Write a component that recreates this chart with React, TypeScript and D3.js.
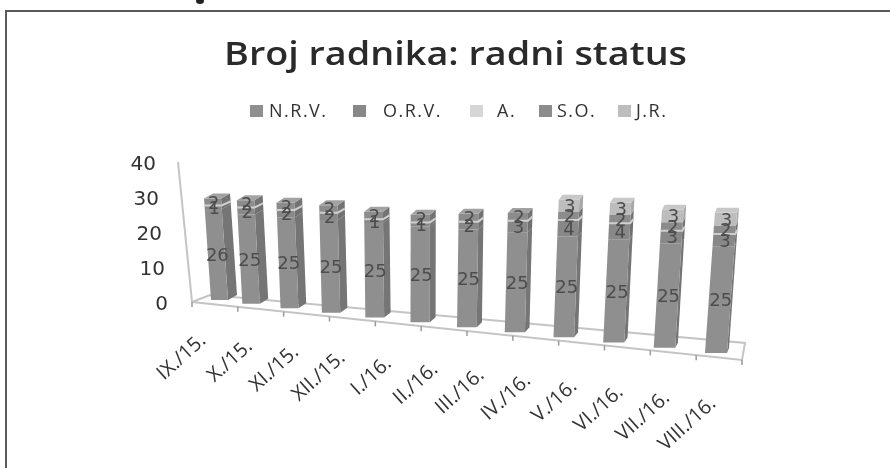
import * as d3 from "d3";
import { useEffect, useRef } from "react";

const months = ["IX./15.", "X./15.", "XI./15.", "XII./15.", "I./16.", "II./16.", "III./16.", "IV./16.", "V./16.", "VI./16.", "VII./16.", "VIII./16."];
const nrv = [26, 25, 25, 25, 25, 25, 25, 25, 25, 25, 25, 25];
const orv = [1, 2, 2, 2, 1, 1, 2, 3, 4, 4, 3, 3];
const aa = [0, 0, 0, 0, 0, 0, 0, 0, 0, 0, 0, 0];
const so = [2, 2, 2, 2, 2, 2, 2, 2, 2, 2, 2, 2];
const jr = [0, 0, 0, 0, 0, 0, 0, 0, 3, 3, 3, 3];
const seriesNames = ["N.R.V.", "O.R.V.", "A.", "S.O.", "J.R."];
const seriesValues = [nrv, orv, aa, so, jr];
const seriesColors = ["#8f8f8f", "#888888", "#d6d6d6", "#8c8c8c", "#bdbdbd"];
const sideColors = ["#747474", "#707070", "#c0c0c0", "#737373", "#a8a8a8"];
const legendSwatchX = [250, 353, 470, 539, 618];
const legendTextX = [269, 383, 497, 557, 636];
const yTicks = [0, 10, 20, 30, 40];

const App = () => {
    const svgRef = useRef<SVGSVGElement>(null);

    useEffect(() => {
        if (!svgRef.current) return;
        const svg = d3.select(svgRef.current);
        svg.selectAll("*").remove();

        const defs = svg.append("defs");
        defs.append("filter").attr("id", "scan").append("feGaussianBlur").attr("stdDeviation", 0.5);

        const root = svg.append("g").attr("filter", "url(#scan)");
        const idx = [0, months.length - 1];

        // fake 3d: everything slides and grows toward the viewer along the category index
        const baseX = d3.scalePow().exponent(1.15).domain(idx).range([211, 705]);
        const baseY = d3.scalePow().exponent(1.1).domain(idx).range([300, 353]);
        const frontW = d3.scaleLinear().domain(idx).range([17, 22]);
        const sideW = d3.scaleLinear().domain(idx).range([9, 2]);
        const unit = d3.scaleLinear().domain(idx).range([3.5, 4.25]);
        const lean = d3.scaleLinear().domain(idx).range([-0.24, 0.3]);
        const y = d3.scaleLinear().domain([0, 40]).range([303, 163]);

        // ink blob at the top edge of the scan
        root.append("ellipse")
            .attr("cx", 200)
            .attr("cy", 1)
            .attr("rx", 4)
            .attr("ry", 3)
            .attr("fill", "#222");

        // chart frame
        root.append("path")
            .attr("d", "M6,468V11H890")
            .attr("fill", "none")
            .attr("stroke", "#5a5a5a")
            .attr("stroke-width", 2);

        // title, stretched sideways like the scan
        root.append("text")
            .attr("x", 224)
            .attr("y", 65)
            .attr("textLength", 463)
            .attr("lengthAdjust", "spacingAndGlyphs")
            .style("font-family", "'Open Sans'")
            .style("font-size", "32px")
            .style("font-weight", 600)
            .style("fill", "#2b2b2b")
            .text("Broj radnika: radni status");

        // legend
        seriesNames.forEach((name, k) => {
            root.append("rect")
                .attr("x", legendSwatchX[k])
                .attr("y", 105)
                .attr("width", 13)
                .attr("height", 12)
                .attr("fill", seriesColors[k]);
            root.append("text")
                .attr("x", legendTextX[k])
                .attr("y", 117)
                .style("font-family", "'Open Sans'")
                .style("font-size", "18px")
                .style("letter-spacing", "1.5px")
                .style("fill", "#333")
                .text(name);
        });

        // y labels follow the slanted wall
        const labelEdge = d3.scaleLinear().domain([0, 40]).range([168, 156]);
        const yAxis = root.append("g")
            .call(d3.axisLeft(y).tickValues(yTicks).tickSize(0).tickPadding(0));
        yAxis.select(".domain").remove();
        yAxis.selectAll<SVGTextElement, number>("text")
            .attr("x", (d) => labelEdge(d))
            .style("font-family", "'DejaVu Sans'")
            .style("font-size", "20px")
            .style("fill", "#333");

        // walls and floor
        const axisLines = root.append("g").attr("fill", "none").attr("stroke", "#c4c4c4").attr("stroke-width", 2);
        axisLines.append("path").attr("d", "M178,162L192,302");
        axisLines.append("path").attr("d", "M192,302L210,295L745,343L742,360Z");

        // ticks on the front floor edge
        const tickX = d3.scaleLinear().domain([0, months.length]).range([192, 742]);
        const tickY = d3.scaleLinear().domain([0, months.length]).range([302, 360]);
        d3.range(months.length + 1).forEach((t) => {
            root.append("line")
                .attr("x1", tickX(t))
                .attr("x2", tickX(t))
                .attr("y1", tickY(t))
                .attr("y2", tickY(t) + 5)
                .attr("stroke", "#9a9a9a")
                .attr("stroke-width", 1.5);
        });

        // bars, stacked from the series arrays
        months.forEach((_m, i) => {
            const g = root.append("g");
            const w = frontW(i);
            const s = sideW(i);
            const px = (v: number) => baseX(i) + lean(i) * v;
            const py = (v: number) => baseY(i) - unit(i) * v;
            let cum = 0;

            seriesValues.forEach((vals, k) => {
                const v = vals[i];
                const a = cum;
                const b = cum + v;
                cum = b;
                if (v === 0) return;
                g.append("path")
                    .attr("d", `M${px(a) + w},${py(a)}L${px(a) + w + s},${py(a) - 5}L${px(b) + w + s},${py(b) - 5}L${px(b) + w},${py(b)}Z`)
                    .attr("fill", sideColors[k]);
                g.append("path")
                    .attr("d", `M${px(a)},${py(a)}L${px(a) + w},${py(a)}L${px(b) + w},${py(b)}L${px(b)},${py(b)}Z`)
                    .attr("fill", seriesColors[k]);
            });

            // zero-height A. segment still shows its light top face
            const stripe = nrv[i] + orv[i];
            g.append("path")
                .attr("d", `M${px(stripe)},${py(stripe)}L${px(stripe) + w},${py(stripe)}L${px(stripe) + w + s},${py(stripe) - 4}`)
                .attr("fill", "none")
                .attr("stroke", "#cfcfcf")
                .attr("stroke-width", 2);

            // top face
            g.append("path")
                .attr("d", `M${px(cum)},${py(cum)}L${px(cum) + w},${py(cum)}L${px(cum) + w + s},${py(cum) - 5}L${px(cum) + s},${py(cum) - 5}Z`)
                .attr("fill", jr[i] > 0 ? "#c8c8c8" : "#a2a2a2");

            // data labels
            cum = 0;
            seriesValues.forEach((vals) => {
                const v = vals[i];
                const mid = cum + v / 2;
                cum += v;
                if (v === 0) return;
                g.append("text")
                    .attr("x", px(mid) + w / 2 + 1)
                    .attr("y", py(mid))
                    .attr("text-anchor", "middle")
                    .attr("dominant-baseline", "central")
                    .style("font-family", "'DejaVu Sans'")
                    .style("font-size", "18px")
                    .style("fill", "#4d4d4d")
                    .text(v);
            });
        });

        // x labels
        const labelX = d3.scaleLinear().domain(idx).range([207, 717]);
        const labelY = d3.scaleLinear().domain(idx).range([342, 405]);
        months.forEach((m, i) => {
            root.append("text")
                .attr("transform", `translate(${labelX(i)},${labelY(i)}) rotate(-42)`)
                .attr("text-anchor", "end")
                .style("font-family", "'Open Sans'")
                .style("font-size", "20px")
                .style("fill", "#333")
                .text(m);
        });
    }, []);

    return (
        <svg
            ref={svgRef}
            width={890}
            height={468}
            style={{ position: "fixed", left: 0, top: 0, background: "#fff" }}
        />
    );
};

export default App;
